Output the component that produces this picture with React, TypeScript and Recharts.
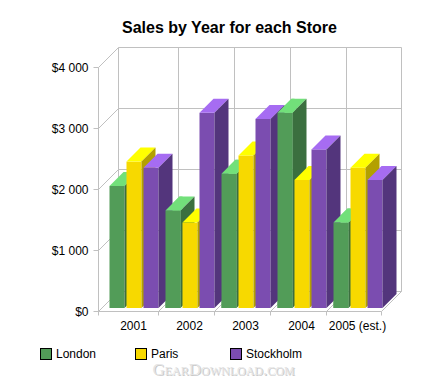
import React from 'react';
import { BarChart, Bar, XAxis, YAxis, CartesianGrid } from 'recharts';

const years = ['2001', '2002', '2003', '2004', '2005 (est.)'];
const london = [2000, 1600, 2200, 3200, 1400];
const paris = [2400, 1400, 2500, 2100, 2300];
const stockholm = [2300, 3200, 3100, 2600, 2100];
const yTicks = [0, 1000, 2000, 3000, 4000];

const seriesNames = ['London', 'Paris', 'Stockholm'];
const palette = [
  { front: '#529c58', top: '#72e07a', side: '#3b6f3f' },
  { front: '#f7d900', top: '#ffff00', side: '#b3a000' },
  { front: '#7b4db0', top: '#a66cf2', side: '#53357c' },
];

const data = years.map((year, i) => ({
  year,
  London: london[i],
  Paris: paris[i],
  Stockholm: stockholm[i],
}));

const W = 446;
const H = 378;
const MARGIN = { top: 67.5, right: 64.5, bottom: 36.5, left: 38.5 };
const Y_W = 60;
const WALL = 20; // back wall depth offset
const DEPTH = 14; // bar depth offset
const LIFT = 3.5; // bars sit slightly back from the front plane
const BAR = 15;
const GAP = 2;
const PAD_L = 7;
const PAD_R = -4;
const GRID = '#c0c0c0';
const FONT = '"Liberation Sans", Arial, sans-serif';
const PLOT_W = W - MARGIN.left - MARGIN.right - Y_W;
const STEP = (PLOT_W - PAD_L - PAD_R) / years.length;

const fmt = (v: number) => {
  if (v === 0) return '$0';
  const s = String(v);
  return '$' + s.slice(0, s.length - 3) + ' ' + s.slice(-3);
};

type Colors = { front: string; top: string; side: string };

const box = (fx: number, fy: number, w: number, h: number, c: Colors) => {
  const d = DEPTH;
  return (
    <>
      <rect x={fx} y={fy} width={w} height={h} fill={c.front} />
      <polygon
        points={`${fx},${fy} ${fx + d},${fy - d} ${fx + w + d},${fy - d} ${fx + w},${fy}`}
        fill={c.top}
      />
      <polygon
        points={`${fx + w},${fy} ${fx + w + d},${fy - d} ${fx + w + d},${fy + h - d} ${fx + w},${fy + h}`}
        fill={c.side}
      />
    </>
  );
};

const makeShape = (seriesIndex: number) => (props: any) => {
  const { x, y, width, height, index } = props;
  if (width == null || height == null) return <g />;
  const c = palette[seriesIndex];
  const fy = y - LIFT;
  // the last series' side face reaches into the next category; redraw the
  // front edge of that category's first bar on top so depth order is right
  let overlay = null;
  if (seriesIndex === 2 && index < years.length - 1 && stockholm[index] > 0) {
    const ppu = height / stockholm[index];
    const base = y + height - LIFT;
    const lh = london[index + 1] * ppu;
    const lx = x + STEP - 2 * (BAR + GAP);
    const ly = base - lh;
    const lc = palette[0];
    const cut = BAR + GAP;
    overlay = (
      <>
        <rect x={lx} y={ly} width={BAR} height={lh} fill={lc.front} />
        <polygon
          points={`${lx},${ly} ${lx + DEPTH},${ly - DEPTH} ${lx + cut},${ly - DEPTH} ${lx + cut},${ly - (cut - BAR)} ${lx + BAR},${ly}`}
          fill={lc.top}
        />
      </>
    );
  }
  return (
    <g>
      {box(x, fy, width, height, c)}
      {overlay}
    </g>
  );
};

const horizontalLine = (p: any) => {
  const { x1, y1, x2 } = p;
  return (
    <g key={`h-${p.index}-${y1}`}>
      <line x1={x1 + WALL} y1={y1 - WALL} x2={x2 + WALL} y2={y1 - WALL} stroke={GRID} />
      <line x1={x1} y1={y1} x2={x1 + WALL} y2={y1 - WALL} stroke={GRID} />
    </g>
  );
};

const verticalLine = (p: any) => {
  const { x1, y1, y2 } = p;
  return (
    <g key={`v-${p.index}-${x1}`}>
      <line x1={x1 + WALL} y1={y1 - WALL} x2={x1 + WALL} y2={y2 - WALL} stroke={GRID} />
      <line x1={x1} y1={y2} x2={x1 + WALL} y2={y2 - WALL} stroke={GRID} />
      <line x1={x1} y1={y2} x2={x1} y2={y2 + 4} stroke={GRID} />
    </g>
  );
};

const verticalCoords = ({ offset }: any) => {
  const left = offset.left;
  const w = offset.width;
  const start = left + PAD_L;
  const bw = (w - PAD_L - PAD_R) / years.length;
  const half = (3 * BAR + 2 * GAP) / 2;
  const inner = years.slice(0, -1).map((_, k) => start + bw * (k + 0.5) + half + 0.5);
  return [left, ...inner, left + w];
};

export default function App() {
  return (
    <div style={{ position: 'absolute', left: 0, top: 0, width: W, height: H, background: '#fff', fontFamily: FONT }}>
      <div
        style={{
          position: 'absolute',
          left: 0,
          width: 459,
          top: 18,
          textAlign: 'center',
          fontWeight: 'bold',
          fontSize: 16,
          color: '#000',
          lineHeight: '19px',
        }}
      >
        Sales by Year for each Store
      </div>
      <BarChart width={W} height={H} data={data} margin={MARGIN} barSize={BAR} barGap={GAP}>
        <CartesianGrid
          horizontal={horizontalLine}
          vertical={verticalLine}
          verticalCoordinatesGenerator={verticalCoords}
        />
        <XAxis
          dataKey="year"
          padding={{ left: PAD_L, right: PAD_R }}
          height={30}
          axisLine={{ stroke: GRID }}
          tickLine={false}
          tickSize={6}
          tickMargin={4}
          tick={{ fill: '#000', fontSize: 12, fontFamily: FONT }}
          interval={0}
        />
        <YAxis
          width={Y_W}
          domain={[0, 4000]}
          ticks={yTicks}
          tickFormatter={fmt}
          axisLine={{ stroke: GRID }}
          tickLine={{ stroke: GRID }}
          tickSize={5}
          tickMargin={5}
          tick={{ fill: '#000', fontSize: 12, fontFamily: FONT }}
        />
        {seriesNames.map((name, i) => (
          <Bar key={name} dataKey={name} isAnimationActive={false} shape={makeShape(i)} />
        ))}
      </BarChart>
      <div style={{ position: 'absolute', left: 40, top: 347, height: 14, display: 'flex' }}>
        {seriesNames.map((name, i) => (
          <div key={name} style={{ display: 'flex', alignItems: 'center', width: 95, height: 14 }}>
            <div
              style={{
                width: 10,
                height: 10,
                border: '1px solid #000',
                background: palette[i].front,
                marginRight: 4,
              }}
            />
            <span style={{ fontSize: 12, color: '#000', lineHeight: '14px' }}>{name}</span>
          </div>
        ))}
      </div>
      <div
        style={{
          position: 'absolute',
          left: 150,
          width: 147,
          top: 362,
          textAlign: 'center',
          fontFamily: '"Liberation Serif", "Times New Roman", serif',
          fontVariant: 'small-caps',
          fontSize: 17,
          lineHeight: '15px',
          color: '#e4e4e4',
          textShadow: '1px 1px 0 #c8c8c8',
          whiteSpace: 'nowrap',
        }}
      >
        GearDownload.com
      </div>
    </div>
  );
}
